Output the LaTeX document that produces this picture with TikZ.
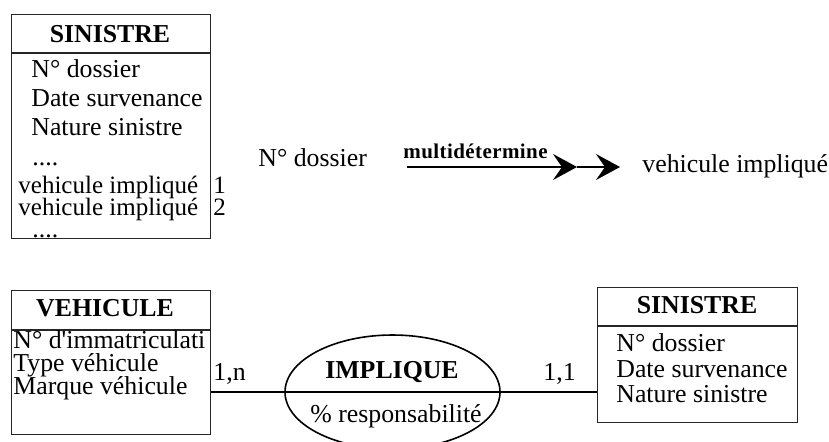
\documentclass[tikz,border=0pt]{standalone}
\usepackage{fontspec}
\setmainfont{Liberation Serif}
\usetikzlibrary{arrows.meta,shapes.geometric}

\begin{document}
\begin{tikzpicture}[x=0.5pt,y=-0.5pt,
  box/.style={draw=black!85, line width=0.6pt, rectangle, inner sep=0pt, anchor=north west},
  txt/.style={anchor=base west, inner sep=0pt, font=\fontsize{12.9}{15}\selectfont},
  rep/.style={anchor=base west, inner sep=0pt, font=\fontsize{12.5}{14}\selectfont},
  ttl/.style={anchor=base, inner sep=0pt, font=\fontsize{12.9}{15}\selectfont\bfseries},
  lbl/.style={anchor=base west, inner sep=0pt, font=\fontsize{10.5}{12}\selectfont\bfseries},
  link/.style={line width=0.9pt},
  tip/.style={-{Stealth[length=12pt,width=13pt,inset=4.5pt]}, line width=0.7pt}
]
\clip (0,0) rectangle (829,441);
\useasboundingbox (0,0) rectangle (829,441);

% --- SINISTRE entity (flat form, with repeated attribute)
\node[box, minimum width=99.5pt, minimum height=112pt] (s1) at (11,14) {};
\draw[draw=black!85, line width=0.6pt] (11,53) -- (210,53);
\node[ttl] (s1t) at (110,42) {SINISTRE};
\node[txt] (s1a) at (31,77) {N° dossier};
\node[txt] (s1b) at (31,106) {Date survenance};
\node[txt] (s1c) at (31,135) {Nature sinistre};
\node[txt] (s1d) at (32,165) {....};
\node[rep] (s1e) at (18,193) {vehicule impliqué};
\node[rep] (s1e1) at (213,193) {1};
\node[rep] (s1f) at (18,215) {vehicule impliqué};
\node[rep] (s1f1) at (213,215) {2};
\node[txt] (s1g) at (32,237) {....};

% --- multivalued dependency
\node[txt] (nd) at (258,166) {N° dossier};
\node[lbl] (md) at (403,158) {\addfontfeatures{LetterSpace=2}multidétermine};
\node[txt] (vi) at (642,172) {vehicule impliqué};
\coordinate (a0) at (407,167);
\coordinate (a1) at (577,167);
\coordinate (a2) at (620,167);
\draw[tip] (a0) -- (a1);
\draw[tip] (a1) -- (a2);

% --- VEHICULE entity
\node[box, minimum width=99.5pt, minimum height=72pt] (veh) at (11,290) {};
\draw[draw=black!85, line width=0.6pt] (11,330) -- (210,330);
\node[ttl] (veht) at (105,316) {VEHICULE};
\node[txt] (veha) at (13,348) {N° d\textquotesingle immatriculati};
\node[txt] (vehb) at (13,371) {Type véhicule};
\node[txt] (vehc) at (13,394) {Marque véhicule};

% --- SINISTRE entity
\node[box, minimum width=100pt, minimum height=67.5pt] (s2) at (597,287) {};
\draw[draw=black!85, line width=0.6pt] (597,326) -- (797,326);
\node[ttl] (s2t) at (697,313) {SINISTRE};
\node[txt] (s2a) at (616,351) {N° dossier};
\node[txt] (s2b) at (616,377) {Date survenance};
\node[txt] (s2c) at (616,402) {Nature sinistre};

% --- IMPLIQUE association
\node[draw, ellipse, line width=0.8pt, minimum width=107.5pt, minimum height=57pt, inner sep=0pt] (rel) at (392.5,392) {};
\draw[link] (veh.east |- rel.center) -- (s2.west |- rel.center);
\node[ttl] (relt) at (392,378) {IMPLIQUE};
\node[txt, anchor=base] (rela) at (396,422) {\% responsabilité};
\node[txt] (c1) at (213,380) {1,n};
\node[txt] (c2) at (543,380) {1,1};
\end{tikzpicture}
\end{document}
